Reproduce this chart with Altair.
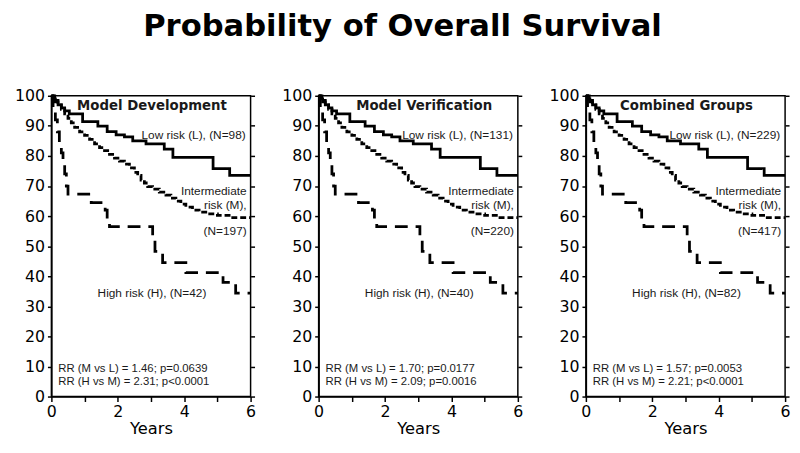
import altair as alt
import pandas as pd

# ---- data (same curve shapes in all three panels) ----
low_t = [0, 0.05, 0.12, 0.2, 0.3, 0.4, 0.54, 0.94, 1.4, 1.68, 1.95, 2.2, 2.45, 2.85, 3.4, 3.66, 4.87, 5.37, 6.0]
low_s = [100, 99, 98, 97, 96, 95, 94, 91.4, 89.9, 88.1, 87.0, 86.3, 85.0, 84.0, 82.3, 79.5, 75.8, 73.5, 73.5]

mid_t = [0, 0.1, 0.2, 0.3, 0.4, 0.5, 0.6, 0.7, 0.85, 1.0, 1.15, 1.3, 1.45, 1.6, 1.75, 1.9, 2.05,
         2.2, 2.35, 2.5, 2.6, 2.7, 2.8, 2.9, 3.05, 3.25, 3.45, 3.6, 3.75, 3.9, 4.05, 4.25, 4.45,
         4.7, 5.0, 5.4, 6.0]
mid_s = [100, 98.5, 97, 95.5, 94, 92.5, 91, 89.5, 88, 86.8, 85.5, 84, 82.8, 81.8, 80.5, 79.3, 78.3,
         77.3, 76, 74.5, 73.5, 72, 71, 69.8, 69, 68, 67, 66, 65, 64, 63, 62, 61.3,
         60.7, 60.2, 59.5, 59.5]

high_t = [0, 0.05, 0.12, 0.18, 0.24, 0.3, 0.35, 0.4, 0.45, 0.5, 1.2, 1.62, 1.68, 1.75, 3.05, 3.12,
          3.35, 4.05, 5.17, 5.55, 6.0]
high_s = [100, 95, 92, 88, 84, 81, 77, 74, 70, 67.3, 64.5, 62, 59, 56.5, 52, 48.3,
          44.5, 41.2, 38, 34.4, 34.4]

panel_titles = ["Model Development", "Model Verification", "Combined Groups"]
low_n = ["98", "131", "229"]
mid_n = ["197", "220", "417"]
high_n = ["42", "40", "82"]
rr_ml = ["1.46", "1.70", "1.57"]
p_ml = ["p=0.0639", "p=0.0177", "p=0.0053"]
rr_hm = ["2.31", "2.09", "2.21"]
p_hm = ["p<0.0001", "p=0.0016", "p<0.0001"]

title_x = [102, 107, 102]

W, H = 202, 305
one = pd.DataFrame({"k": [0]})


def curves_df():
    rows = []
    for g, ts, ss in (("L", low_t, low_s), ("M", mid_t, mid_s), ("H", high_t, high_s)):
        for t, s in zip(ts, ss):
            rows.append({"g": g, "t": t, "s": s})
    return pd.DataFrame(rows)


def label(text, x, y, align="left", size=12, weight="normal", font="Liberation Sans"):
    return alt.Chart(one).mark_text(
        align=align, baseline="middle", fontSize=size, fontWeight=weight, font=font,
        color="#1a1a1a"
    ).encode(x=alt.value(x), y=alt.value(y * H / 307), text=alt.value(text))


def panel(i):
    df = curves_df()
    base = alt.Chart(df)
    xenc = alt.X(
        "t:Q",
        scale=alt.Scale(domain=[0, 6], nice=False, zero=True),
        axis=alt.Axis(
            values=list(range(7)),
            labelExpr="datum.value % 2 == 0 ? datum.label : ''",
            tickSize=5, labelPadding=2, title="Years", titlePadding=1,
            labelFontSize=16, titleFontSize=16.5, labelFlush=False,
        ),
    )
    lines = base.mark_line(
        interpolate="step-after", strokeWidth=2.8, color="black", strokeCap="butt"
    ).encode(
        x=xenc,
        y=alt.Y(
            "s:Q",
            scale=alt.Scale(domain=[0, 100], nice=False),
            axis=alt.Axis(values=list(range(0, 101, 10)), tickSize=4, labelPadding=3,
                          title=None, minExtent=37, maxExtent=37, labelFontSize=16),
        ),
        strokeDash=alt.StrokeDash(
            "g:N",
            scale=alt.Scale(domain=["L", "M", "H"], range=[[1, 0], [6, 3], [13, 8]]),
            legend=None,
        ),
        detail="g:N",
    )
    right = base.mark_point(opacity=0).encode(
        x=xenc,
        y=alt.Y(
            "s:Q",
            scale=alt.Scale(domain=[0, 100], nice=False),
            axis=alt.Axis(orient="right", values=list(range(0, 101, 10)), labels=False,
                          tickSize=4, domain=False, title=None, minExtent=4, maxExtent=4),
        ),
    )
    texts = [
        label(panel_titles[i], title_x[i], 11, align="center", size=13.5, weight="bold",
              font="DejaVu Sans"),
        label(f"Low risk (L),  (N={low_n[i]})", 197, 40, align="right"),
        label("Intermediate", 198, 97, align="right"),
        label("risk (M),", 198, 112, align="right"),
        label(f"(N={mid_n[i]})", 198, 138.5, align="right"),
        label(f"High risk (H),  (N={high_n[i]})", 102, 201, align="center"),
        label(f"RR (M vs L) = {rr_ml[i]}; {p_ml[i]}", 7, 278.5, size=11.5),
        label(f"RR (H vs M) = {rr_hm[i]}; {p_hm[i]}", 7, 292, size=11.5),
    ]
    return alt.layer(lines, right, *texts).resolve_scale(y="independent").properties(
        width=W, height=H
    )


chart = alt.hconcat(panel(0), panel(1), panel(2), spacing=23).properties(
    title=alt.Title(
        "Probability of Overall Survival", fontSize=31, font="DejaVu Sans",
        fontWeight="bold", anchor="middle", offset=45, color="black",
    ),
    padding={"left": 5, "top": 0, "right": 0, "bottom": -4},
).configure_view(
    stroke="black", strokeWidth=1.5
).configure_axis(
    domainColor="black", domainWidth=1.5, tickColor="black", tickWidth=1.5,
    labelColor="black", titleColor="black", labelFont="DejaVu Sans",
    titleFont="DejaVu Sans", titleFontWeight="normal", grid=False,
)

chart.save("out.html", embed_options={"renderer": "svg", "actions": False})
